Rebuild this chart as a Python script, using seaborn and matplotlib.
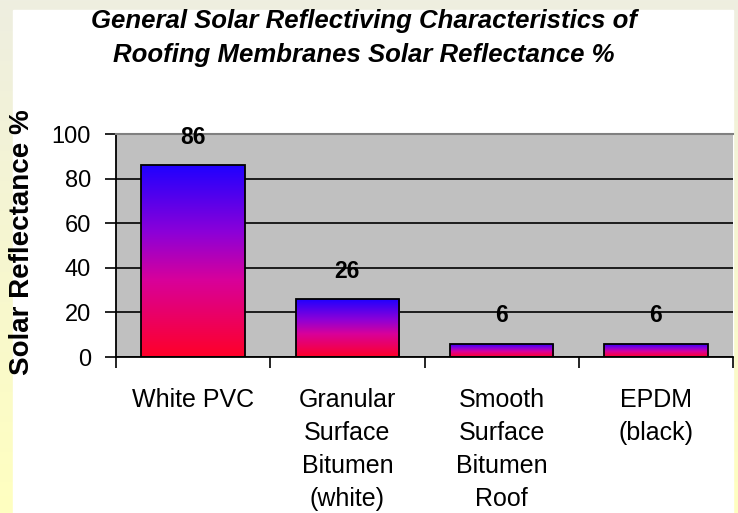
import numpy as np
import seaborn as sns
import matplotlib.pyplot as plt
from matplotlib.colors import LinearSegmentedColormap
from matplotlib.patches import Rectangle

categories = ["White PVC", "Granular\nSurface\nBitumen\n(white)",
              "Smooth\nSurface\nBitumen\nRoof", "EPDM\n(black)"]
values = [86, 26, 6, 6]
y_ticks = [0, 20, 40, 60, 80, 100]
title = "General Solar Reflectiving Characteristics of\nRoofing Membranes Solar Reflectance %"
y_label = "Solar Reflectance %"

sns.set_style("white")
plt.rcParams['font.family'] = ['Liberation Sans', 'DejaVu Sans']
plt.rcParams['text.color'] = 'black'
plt.rcParams['xtick.color'] = 'black'
plt.rcParams['ytick.color'] = 'black'
plt.rcParams['axes.labelcolor'] = 'black'

W, H = 738, 513
fig = plt.figure(figsize=(W / 100, H / 100), dpi=100)

# page background: beige at top fading to pale yellow at the bottom, white card on top
bg = fig.add_axes([0, 0, 1, 1], zorder=-10)
bg_cmap = LinearSegmentedColormap.from_list("page", ["#EEEEE0", "#FFFFC0"])
bg.imshow(np.linspace(0, 1, 256).reshape(-1, 1), cmap=bg_cmap, aspect='auto',
          extent=[0, 1, 0, 1], origin='upper')
bg.add_patch(Rectangle((13 / W, 0), (733 - 13) / W, (H - 10) / H, color='white'))
bg.set_xlim(0, 1)
bg.set_ylim(0, 1)
bg.axis('off')

# plot area position in pixels: left 116, right 733, top 134, bottom 357
ax = fig.add_axes([116 / W, (H - 357) / H, (733 - 116) / W, (357 - 134) / H])
ax.set_facecolor('#C0C0C0')

sns.barplot(x=categories, y=values, width=0.67, color='white',
            edgecolor='black', linewidth=1.3, ax=ax, zorder=3)

# blue-to-red vertical gradient inside each bar
bar_cmap = LinearSegmentedColormap.from_list(
    "bar", [(0, '#FF0028'), (0.4, '#D8009A'), (0.65, '#8C00D8'), (1, '#2000FF')])
grad = np.linspace(1, 0, 256).reshape(-1, 1)
for patch in ax.patches:
    x, w, h = patch.get_x(), patch.get_width(), patch.get_height()
    im = ax.imshow(grad, cmap=bar_cmap, aspect='auto', vmin=0, vmax=1,
                   extent=[x, x + w, 0, h], zorder=2.5)
    im.set_clip_path(patch)
    patch.set_facecolor('none')
    ax.annotate(f"{h:g}", (x + w / 2, h), xytext=(0, 20), textcoords='offset points',
                ha='center', va='center', fontsize=16.5, fontweight='bold')

ax.set_xlim(-0.5, len(categories) - 0.5)
ax.set_ylim(0, 100)
ax.set_yticks(y_ticks)
ax.yaxis.grid(True, color='black', linewidth=1.2)
ax.set_axisbelow(True)

# category boundaries get the tick marks, names sit in between
ax.set_xticks(np.arange(len(categories) + 1) - 0.5)
ax.set_xticklabels([])
ax.set_xticks(np.arange(len(categories)), minor=True)
ax.set_xticklabels(categories, minor=True, fontsize=18, linespacing=1.48)
ax.tick_params(axis='x', which='major', direction='out', length=8, width=1.2,
               color='black', bottom=True)
ax.tick_params(axis='x', which='minor', length=0, pad=22)
ax.tick_params(axis='y', direction='out', length=8, width=1.2, color='black',
               left=True, labelsize=17, pad=10)
ax.set_xlabel('')

for side in ['left', 'bottom']:
    ax.spines[side].set_color('black')
    ax.spines[side].set_linewidth(1.3)
ax.spines['top'].set_color('#808080')
ax.spines['top'].set_linewidth(1.5)
ax.spines['right'].set_visible(False)

ax.set_ylabel(y_label, fontsize=20, fontweight='bold')
ax.yaxis.set_label_coords(-0.132, 0.515)

fig.text(364 / W, 1 - 38 / H, title, ha='center', va='center', fontsize=18.5,
         fontweight='bold', fontstyle='italic', linespacing=1.5)

fig.savefig('out.png', dpi=100)
